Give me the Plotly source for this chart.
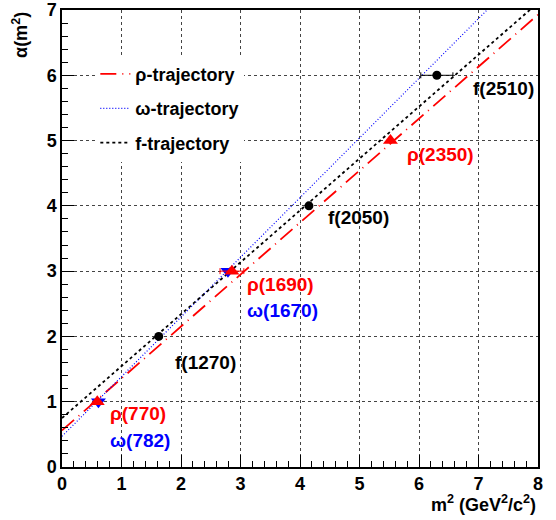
import plotly.graph_objects as go

# ---- data ----
rho_names = ["ρ(770)", "ρ(1690)", "ρ(2350)"]
rho_m2 = [0.593, 2.856, 5.52]
rho_alpha = [1, 3, 5]
rho_err = [0.0, 0.2, 0.0]

omega_names = ["ω(782)", "ω(1670)"]
omega_m2 = [0.612, 2.789]
omega_alpha = [1, 3]

f_names = ["f(1270)", "f(2050)", "f(2510)"]
f_m2 = [1.626, 4.15, 6.30]
f_alpha = [2, 4, 6]
f_err = [0.0, 0.0, 0.27]

# trajectories: alpha = a0 + a1 * m^2
traj_names = ["ρ-trajectory", "ω-trajectory", "f-trajectory"]
traj_a0 = [0.56, 0.47, 0.75]
traj_a1 = [0.796, 0.914, 0.795]
traj_colors = ["red", "blue", "black"]
traj_dash = ["16px,6px,1px,6px", "1px,2px", "3px,3px"]
traj_width = [1.8, 1.2, 1.8]
x_span = [0, 8]

# label positions (data coords) for particle names
lbl_text = ["ρ(770)", "ω(782)", "f(1270)", "ρ(1690)", "ω(1670)", "f(2050)", "ρ(2350)", "f(2510)"]
lbl_x = [0.77, 0.77, 1.87, 3.08, 3.08, 4.44, 5.76, 6.87]
lbl_y = [0.82, 0.41, 1.60, 2.79, 2.39, 3.82, 4.78, 5.80]
lbl_col = ["red", "blue", "black", "red", "blue", "black", "red", "black"]

FONT = "Liberation Sans, Arial, Helvetica, sans-serif"

fig = go.Figure()

for i, name in enumerate(traj_names):
    ys = [traj_a0[i] + traj_a1[i] * x for x in x_span]
    fig.add_trace(go.Scatter(
        x=x_span, y=ys, mode="lines", name=name, legendgroup=name,
        line=dict(color=traj_colors[i], dash=traj_dash[i], width=traj_width[i]),
    ))

fig.add_trace(go.Scatter(
    x=omega_m2, y=omega_alpha, mode="markers", showlegend=False,
    marker=dict(symbol="triangle-down", size=13, color="blue"),
))
fig.add_trace(go.Scatter(
    x=rho_m2, y=rho_alpha, mode="markers", showlegend=False,
    marker=dict(symbol="triangle-up", size=13, color="red"),
    error_x=dict(type="data", array=rho_err, color="red", thickness=1, width=3),
))
fig.add_trace(go.Scatter(
    x=f_m2, y=f_alpha, mode="markers", showlegend=False,
    marker=dict(symbol="circle", size=9, color="black"),
    error_x=dict(type="data", array=f_err, color="black", thickness=1, width=3),
))

for t, x, y, c in zip(lbl_text, lbl_x, lbl_y, lbl_col):
    fig.add_annotation(x=x, y=y, text=t, showarrow=False, xanchor="left", yanchor="middle",
                       font=dict(family=FONT, size=19, color=c, weight="bold"))

axis_common = dict(
    showline=True, linecolor="black", linewidth=1.5, mirror=True,
    showgrid=True, gridcolor="#444", griddash="dot", gridwidth=1,
    ticks="inside", ticklen=12, tickwidth=1, tickcolor="black",
    tickfont=dict(family=FONT, size=18, color="black", weight="bold"),
    zeroline=False, dtick=1, ticklabeloverflow="allow", automargin=False,
    minor=dict(ticks="inside", ticklen=6, dtick=0.2, tickcolor="black", showgrid=False),
)

fig.update_xaxes(range=[0, 8], tick0=0, **axis_common)
fig.update_yaxes(range=[0, 7], tick0=0, **axis_common)

fig.add_annotation(xref="paper", yref="paper", x=1.0, y=-0.05, xanchor="right", yanchor="top",
                   text="m<sup>2</sup> (GeV<sup>2</sup>/c<sup>2</sup>)", showarrow=False,
                   font=dict(family=FONT, size=18, color="black", weight="bold"))
fig.add_annotation(xref="paper", yref="paper", x=-0.06, y=1.0, xanchor="right", yanchor="top",
                   text="α(m<sup>2</sup>)", showarrow=False, textangle=-90,
                   font=dict(family=FONT, size=18, color="black", weight="bold"))

fig.update_layout(
    width=556, height=520,
    margin=dict(l=62, r=18, t=10, b=53, autoexpand=False),
    paper_bgcolor="white", plot_bgcolor="white",
    showlegend=True,
    legend=dict(x=0.07, y=0.9, xanchor="left", yanchor="top",
                bgcolor="white", borderwidth=0, tracegroupgap=8,
                font=dict(family=FONT, size=18, color="black", weight="bold")),
)

fig.write_html("out.html")
